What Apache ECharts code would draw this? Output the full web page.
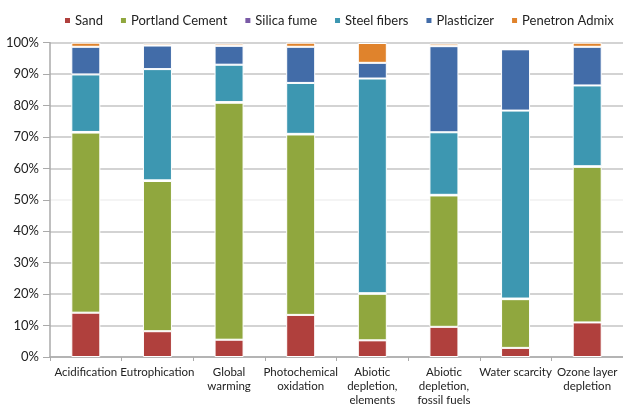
<!DOCTYPE html>
<html>
<head>
<meta charset="utf-8">
<script src="https://cdn.jsdelivr.net/npm/echarts@6/dist/echarts.min.js"></script>
<style>
  html, body { margin: 0; padding: 0; background: #fff; }
  #chart { width: 623px; height: 407px; }
</style>
</head>
<body>
<div id="chart"></div>
<script>
// Impact categories (x axis)
const categories = [
  'Acidification', 'Eutrophication', 'Global\nwarming', 'Photochemical\noxidation',
  'Abiotic\ndepletion,\nelements', 'Abiotic\ndepletion,\nfossil fuels', 'Water scarcity', 'Ozone layer\ndepletion'
];

// Share of each material in the impact, in percent
const sand        = [14.1, 8.2, 5.5, 13.4, 5.3, 9.6, 2.9, 11.0];
const cement      = [57.3, 47.8, 75.4, 57.4, 14.8, 41.8, 15.5, 49.5];
const silicaFume  = [0.2, 0.2, 0.2, 0.2, 0.2, 0.2, 0.2, 0.2];
const steelFibers = [18.3, 35.4, 11.9, 16.2, 68.3, 19.9, 59.8, 25.7];
const plasticizer = [8.8, 7.5, 6.0, 11.5, 5.0, 27.4, 19.5, 12.3];
const penetron    = [1.3, 0.6, 0.7, 1.3, 6.3, 0.8, 0, 1.3];

// Y axis ticks
const yTicks = [0, 10, 20, 30, 40, 50, 60, 70, 80, 90, 100];

const seriesDefs = [
  ['Sand', sand, '#b0403d'],
  ['Portland Cement', cement, '#90a73e'],
  ['Silica fume', silicaFume, '#7a5aa6'],
  ['Steel fibers', steelFibers, '#3d97b1'],
  ['Plasticizer', plasticizer, '#426ca8'],
  ['Penetron Admix', penetron, '#e0832c']
];

const font = 'Lato, "Open Sans", sans-serif';
const chart = echarts.init(document.getElementById('chart'), null, { renderer: 'canvas' });

chart.setOption({
  animation: false,
  backgroundColor: '#fff',
  legend: {
    top: 9,
    left: 58,
    width: 620,
    itemWidth: 7,
    itemHeight: 7,
    itemGap: 16,
    icon: 'rect',
    textStyle: { fontFamily: font, fontSize: 13, color: '#222', padding: [0, 0, 0, -1] },
    data: seriesDefs.map(d => d[0])
  },
  grid: { left: 50, right: 0, top: 42.7, bottom: 46, containLabel: false },
  xAxis: {
    type: 'category',
    data: categories,
    axisLine: { lineStyle: { color: '#aaa', width: 1.5 } },
    axisTick: { show: true, length: 4, lineStyle: { color: '#aaa' } },
    axisLabel: {
      fontFamily: font, fontSize: 11.5, color: '#222', lineHeight: 14, margin: 8, interval: 0
    }
  },
  yAxis: {
    type: 'value',
    min: yTicks[0],
    max: yTicks[yTicks.length - 1],
    interval: 10,
    axisLine: { show: true, lineStyle: { color: '#aaa', width: 1.5 } },
    axisTick: { show: true, length: 7, lineStyle: { color: '#aaa' } },
    axisLabel: {
      fontFamily: font, fontSize: 13, color: '#222', margin: 11,
      formatter: v => v + '%'
    },
    splitLine: {
      lineStyle: {
        color: ['#c4c4c4', '#c4c4c4', '#c4c4c4', '#c4c4c4', '#c4c4c4', '#f0f0f0',
                '#c4c4c4', '#c4c4c4', '#c4c4c4', '#c4c4c4', '#c4c4c4'],
        width: 1.5
      }
    }
  },
  series: seriesDefs.map(([name, data, color]) => ({
    name,
    type: 'bar',
    stack: 'total',
    data,
    barWidth: 29,
    itemStyle: { color, borderColor: '#fff', borderWidth: 1 }
  }))
});
</script>
</body>
</html>
